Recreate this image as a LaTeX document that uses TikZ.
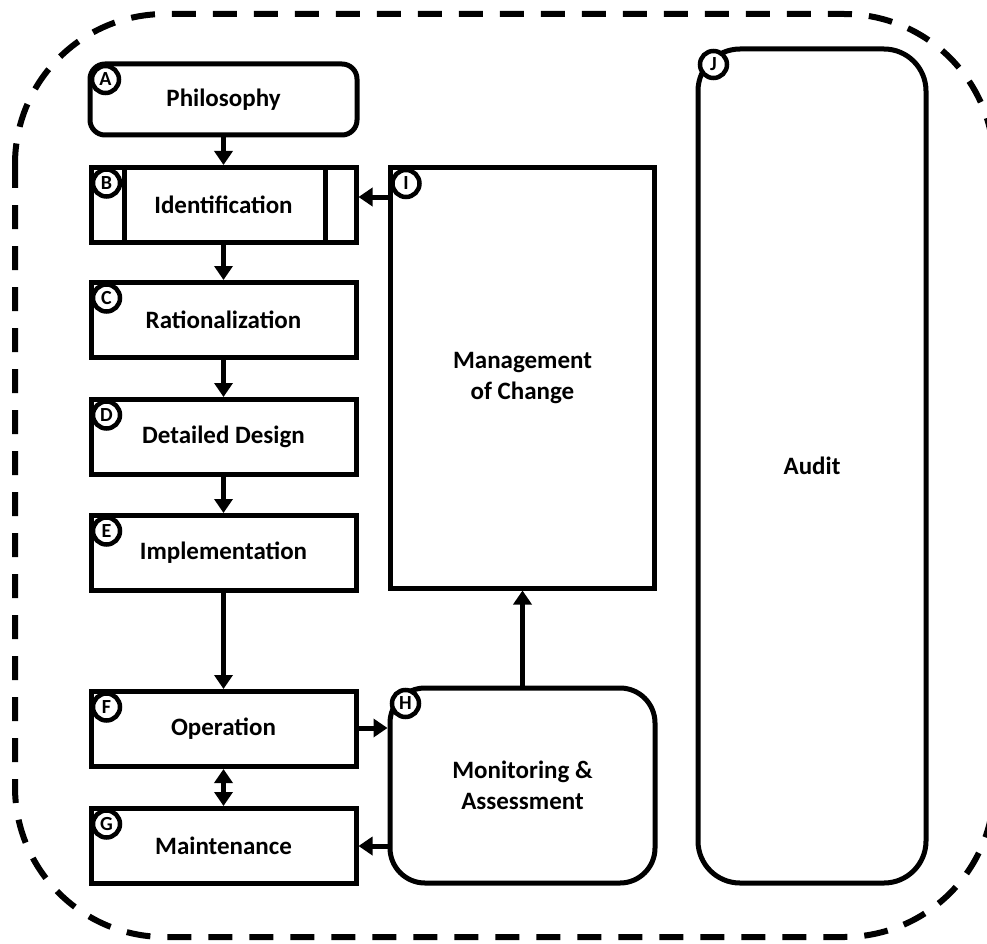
\documentclass[tikz,border=0pt]{standalone}
\usepackage{fontspec}
\setmainfont{Carlito}
\usetikzlibrary{arrows.meta}
\begin{document}
\begin{tikzpicture}[x=1pt,y=-1pt,
  box/.style={draw, line width=5pt, minimum width=265pt, minimum height=75pt, inner sep=0pt,
    font=\fontsize{25}{31}\selectfont\bfseries, align=center},
  rbox/.style={box, rounded corners=15pt},
  tag/.style={draw, circle, fill=white, line width=4.5pt, minimum size=27pt, inner sep=0pt,
    font=\fontsize{20}{20}\selectfont\bfseries},
  conn/.style={line width=5pt, -{Triangle[length=14pt,width=18pt]}},
  dconn/.style={line width=5pt, {Triangle[length=14pt,width=18pt]}-{Triangle[length=14pt,width=18pt]}},
  outer/.style={line width=6pt, dash pattern=on 24pt off 17pt, rounded corners=150pt},
]
\useasboundingbox (0,0) rectangle (987,944);
% outer dashed boundary
\draw[outer] (15,14) rectangle (994,937);

% left column
\node[rbox, minimum width=267pt, minimum height=71pt] (A) at (223.5,99.5) {Philosophy};
\node[box] (B) at (223.5,205) {Identification};
\node[box] (C) at (223.5,320) {Rationalization};
\node[box] (D) at (223.5,437) {Detailed Design};
\node[box] (E) at (223.5,553) {Implementation};
\node[box] (F) at (223.5,729) {Operation};
\node[box] (G) at (223.5,846) {Maintenance};

% B inner lines
\draw[line width=5pt] ([xshift=36pt]B.north west) -- ([xshift=36pt]B.south west);
\draw[line width=5pt] ([xshift=-33pt]B.north east) -- ([xshift=-33pt]B.south east);

% middle column
\node[box, minimum width=264pt, minimum height=420pt] (I) at (522.5,378) {Management\\of Change};
\node[box, rounded corners=35pt, minimum width=265pt, minimum height=195pt] (H) at (522.5,785.5) {Monitoring \&\\Assessment};

% right column
\node[box, rounded corners=42pt, minimum width=228pt, minimum height=834pt] (J) at (812,466) {Audit};

% tags
\foreach \n in {A,B,C,D,E,F,G,H,I,J}{
  \node[tag] (t\n) at ([xshift=18pt,yshift=-18pt]\n.north west) {\n};
}

% connectors
\draw[conn] (A) -- (B);
\draw[conn] (B) -- (C);
\draw[conn] (C) -- (D);
\draw[conn] (D) -- (E);
\draw[conn] (E) -- (F);
\draw[dconn] (F) -- (G);
\draw[conn] ([yshift=1pt]F.east) -- ([yshift=1pt]F.east -| H.west);
\draw[conn] (H.west |- G.east) -- (G.east);
\draw[conn] (H.north) -- (I.south);
\draw[conn] ([yshift=8pt]B.east -| I.west) -- ([yshift=8pt]B.east);
\end{tikzpicture}
\end{document}
